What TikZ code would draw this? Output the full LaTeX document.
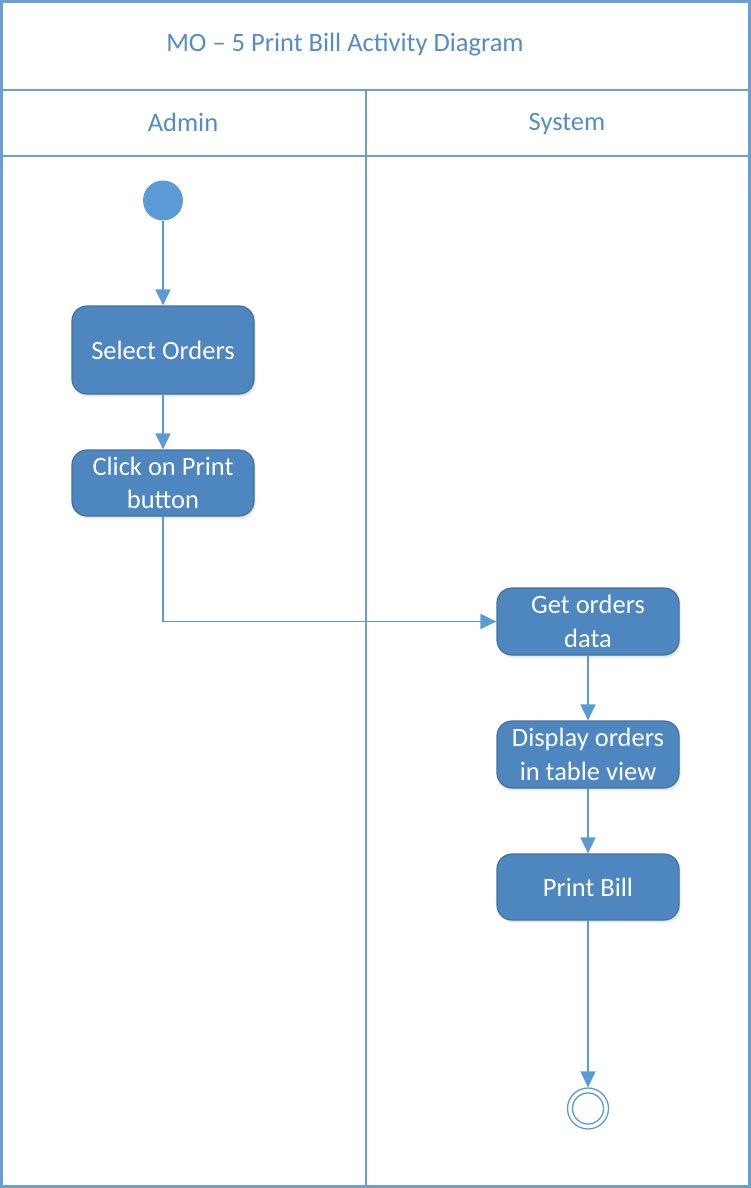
\documentclass[tikz,border=0pt]{standalone}
\usepackage{fontspec}
\setmainfont{Carlito}
\usetikzlibrary{arrows.meta,shadows}
\definecolor{frameblue}{HTML}{6A9FD0}
\definecolor{boxfill}{HTML}{4E86BF}
\definecolor{boxedge}{HTML}{41719C}
\definecolor{lineblue}{HTML}{5B9BD5}
\definecolor{textblue}{HTML}{548DC4}
\tikzset{
  lane/.style={draw=frameblue, line width=2.2pt},
  actbox/.style={draw=boxedge, line width=1.2pt, fill=boxfill, rounded corners=15pt,
    minimum width=182pt, inner sep=0pt, align=center, text=white,
    font=\fontsize{26.5}{33.5}\selectfont,
    drop shadow={opacity=0.18, shadow xshift=1.5pt, shadow yshift=-2.5pt}},
  hdr/.style={text=textblue, inner sep=0pt, font=\fontsize{26.5}{32}\selectfont},
  flow/.style={draw=lineblue, line width=1.9pt, -{Triangle[length=16pt,width=15pt]}},
  startnode/.style={circle, fill=lineblue, minimum size=40pt, inner sep=0pt},
}
\begin{document}
\begin{tikzpicture}[x=1pt,y=-1pt]
\useasboundingbox (0,0) rectangle (751,1188);
% frame
\draw[lane] (1.5,1.5) rectangle (749.5,1186.5);
\draw[lane] (1.5,90) -- (749.5,90);
\draw[lane] (1.5,156) -- (749.5,156);
\draw[lane] (366,90) -- (366,1186.5);
% headers
\node[hdr] (title) at (345,45) {MO – 5 Print Bill Activity Diagram};
\node[hdr] (admin) at (183,122) {Admin};
\node[hdr] (system) at (567,124) {System};
% nodes
\node[startnode] (start) at (163,200.5) {};
\node[actbox, minimum height=88pt] (select) at (163,350) {Select Orders};
\node[actbox, minimum height=66pt] (click) at (163,483) {Click on Print\\button};
\node[actbox, minimum height=67pt] (get) at (588,621.5) {Get orders\\data};
\node[actbox, minimum height=67pt] (display) at (588,754.5) {Display orders\\in table view};
\node[actbox, minimum height=66pt] (print) at (588,887) {Print Bill};
\node[circle, draw=lineblue, line width=1.3pt, minimum size=41pt, inner sep=0pt] (end) at (588,1108.5) {};
\node[circle, draw=lineblue, line width=1.3pt, minimum size=31pt, inner sep=0pt] (endin) at (588,1108.5) {};
% connectors
\draw[flow] (start) -- (select);
\draw[flow] (select) -- (click);
\draw[flow] (click.south) |- (get.west);
\draw[flow] (get) -- (display);
\draw[flow] (display) -- (print);
\draw[flow] (print) -- (end);
\end{tikzpicture}
\end{document}
